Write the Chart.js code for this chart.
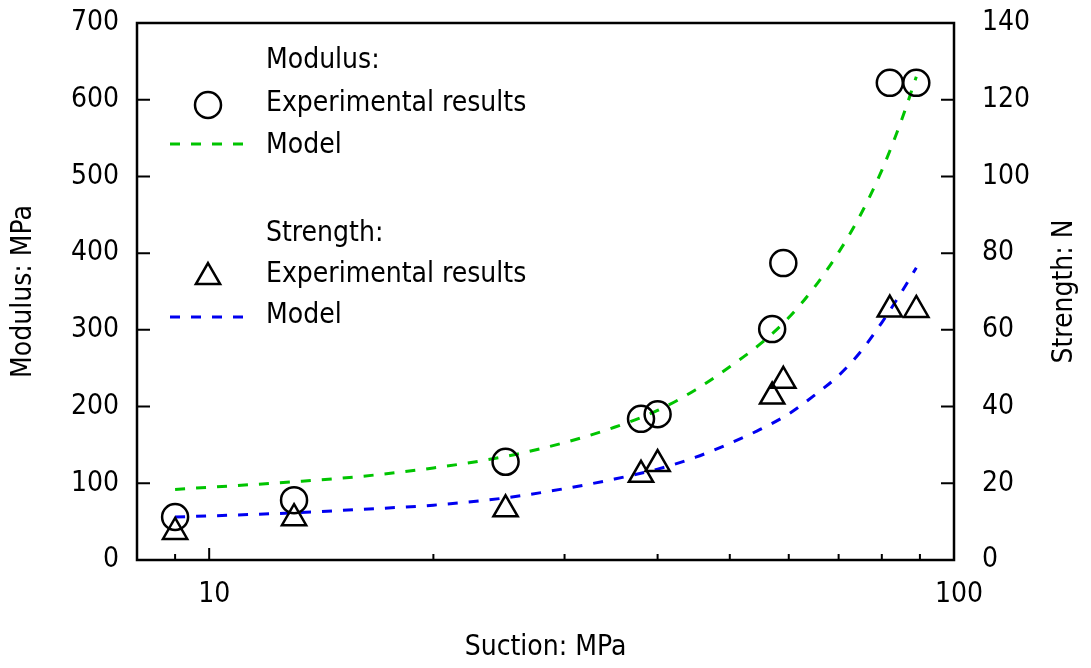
<!DOCTYPE html>
<html>
<head>
<meta charset="utf-8">
<title>Modulus and strength vs suction</title>
<script src="https://cdn.jsdelivr.net/npm/chart.js@4.4.1/dist/chart.umd.min.js"></script>
<style>
  html, body { margin: 0; padding: 0; background: #fff; }
  #wrap { width: 1091px; height: 668px; position: relative; }
</style>
</head>
<body>
<div id="wrap"><canvas id="suctionChart"></canvas></div>
<script>
// experimental points (suction in MPa)
const suction = [9, 13, 25, 38, 40, 57, 59, 82, 89];
const modulusExp = [56, 78, 128, 184, 190, 301, 387, 622, 622];
const strengthExp = [7.3, 10.9, 13.2, 22.2, 25.0, 42.6, 46.7, 65.3, 65.2];

// model curves
const modelSuction = [9, 13, 16, 20, 25, 30, 35, 40, 45, 50, 55, 60, 65, 70, 75, 80, 85, 89];
const modulusModel = [92, 102, 109, 120, 135, 153, 173, 195, 222, 252, 282, 316, 356, 401, 451, 508, 573, 630];
const strengthModel = [11.2, 12.3, 13.2, 14.3, 16.2, 18.6, 21.1, 23.7, 26.8, 30.4, 34.1, 38.1, 43.0, 48.1, 54.4, 61.9, 69.8, 76.2];

// axis ticks
const xTicks = [9, 10, 20, 30, 40, 50, 60, 70, 80, 90, 100];
const xLabels = [10, 100];
const modulusTicks = [0, 100, 200, 300, 400, 500, 600, 700];
const strengthTicks = [0, 20, 40, 60, 80, 100, 120, 140];

const GREEN = '#00c400';
const BLUE = '#0000f0';
const FONT = '"DejaVu Sans Condensed", "Liberation Sans", sans-serif';

Chart.defaults.font.family = FONT;
Chart.defaults.font.size = 28;
Chart.defaults.color = '#000';

function pts(xs, ys) {
    return xs.map((x, i) => ({ x: x, y: ys[i] }));
}

// fixed box sizes so the plot area lands where the original one is
function fixSize(w, h) {
    return s => {
        if (w) s.width = w;
        if (h) s.height = h;
        s.paddingTop = 0;
        s.paddingBottom = 0;
        s.paddingLeft = 0;
        s.paddingRight = 0;
    };
}

// frame + inward ticks like the original plot
const frameTicks = {
    id: 'frameTicks',
    afterDraw(chart) {
        const { ctx, chartArea: a, scales } = chart;
        ctx.save();
        ctx.strokeStyle = '#000';
        ctx.lineWidth = 2;
        ctx.beginPath();
        scales.x.ticks.forEach(t => {
            const px = scales.x.getPixelForValue(t.value);
            const len = xLabels.includes(t.value) ? 12 : 6;
            ctx.moveTo(px, a.bottom);
            ctx.lineTo(px, a.bottom - len);
        });
        scales.y.ticks.forEach(t => {
            const py = scales.y.getPixelForValue(t.value);
            ctx.moveTo(a.left, py);
            ctx.lineTo(a.left + 13, py);
        });
        scales.y2.ticks.forEach(t => {
            const py = scales.y2.getPixelForValue(t.value);
            ctx.moveTo(a.right, py);
            ctx.lineTo(a.right - 13, py);
        });
        ctx.stroke();
        ctx.lineWidth = 2.5;
        ctx.strokeRect(a.left, a.top, a.right - a.left, a.bottom - a.top);

        // right axis title reads bottom to top
        ctx.fillStyle = '#000';
        ctx.font = '28px ' + FONT;
        ctx.textAlign = 'center';
        ctx.textBaseline = 'middle';
        ctx.translate(1065, (a.top + a.bottom) / 2);
        ctx.rotate(-Math.PI / 2);
        ctx.fillText('Strength: N', 0, 0);
        ctx.restore();
    }
};

// two-group legend: header, marker row, model row
const groupLegend = {
    id: 'groupLegend',
    afterDraw(chart) {
        const ctx = chart.ctx;
        const ds = chart.data.datasets;
        const rows = [
            { text: 'Modulus:', y: 68 },
            { text: ds[0].label, y: 111, point: ds[0], py: 105 },
            { text: ds[1].label, y: 153, line: ds[1], ly: 144 },
            { text: 'Strength:', y: 241 },
            { text: ds[2].label, y: 282, point: ds[2], py: 277 },
            { text: ds[3].label, y: 323, line: ds[3], ly: 317 }
        ];
        ctx.save();
        ctx.font = '28px ' + FONT;
        ctx.fillStyle = '#000';
        ctx.textAlign = 'left';
        ctx.textBaseline = 'alphabetic';
        rows.forEach(r => {
            ctx.fillText(r.text, 266, r.y);
            if (r.point) {
                const p = r.point;
                const rad = p.pointRadius;
                ctx.strokeStyle = p.borderColor;
                ctx.lineWidth = p.borderWidth;
                ctx.beginPath();
                if (p.pointStyle === 'circle') {
                    ctx.arc(208, r.py, rad, 0, Math.PI * 2);
                } else {
                    let ang = 0;
                    ctx.moveTo(208 + Math.sin(ang) * rad, r.py - Math.cos(ang) * rad);
                    ang += 2 * Math.PI / 3;
                    ctx.lineTo(208 + Math.sin(ang) * rad, r.py - Math.cos(ang) * rad);
                    ang += 2 * Math.PI / 3;
                    ctx.lineTo(208 + Math.sin(ang) * rad, r.py - Math.cos(ang) * rad);
                    ctx.closePath();
                }
                ctx.stroke();
            }
            if (r.line) {
                ctx.strokeStyle = r.line.borderColor;
                ctx.lineWidth = r.line.borderWidth;
                ctx.setLineDash(r.line.borderDash);
                ctx.beginPath();
                ctx.moveTo(170, r.ly);
                ctx.lineTo(250, r.ly);
                ctx.stroke();
                ctx.setLineDash([]);
            }
        });
        ctx.restore();
    }
};

const ctx = document.getElementById('suctionChart');

new Chart(ctx, {
    type: 'scatter',
    data: {
        datasets: [
            {
                label: 'Experimental results',
                data: pts(suction, modulusExp),
                yAxisID: 'y',
                pointStyle: 'circle',
                pointRadius: 13,
                borderColor: '#000',
                borderWidth: 2.5,
                backgroundColor: 'rgba(0,0,0,0)',
                order: 0
            },
            {
                label: 'Model',
                data: pts(modelSuction, modulusModel),
                yAxisID: 'y',
                showLine: true,
                borderColor: GREEN,
                borderWidth: 3,
                borderDash: [10, 11],
                pointRadius: 0,
                cubicInterpolationMode: 'monotone',
                order: 1
            },
            {
                label: 'Experimental results',
                data: pts(suction, strengthExp),
                yAxisID: 'y2',
                pointStyle: 'triangle',
                pointRadius: 14,
                borderColor: '#000',
                borderWidth: 2.5,
                backgroundColor: 'rgba(0,0,0,0)',
                order: 0
            },
            {
                label: 'Model',
                data: pts(modelSuction, strengthModel),
                yAxisID: 'y2',
                showLine: true,
                borderColor: BLUE,
                borderWidth: 3,
                borderDash: [10, 11],
                pointRadius: 0,
                cubicInterpolationMode: 'monotone',
                order: 1
            }
        ]
    },
    options: {
        responsive: true,
        maintainAspectRatio: false,
        animation: false,
        layout: { padding: { top: 23, left: 0, right: 0, bottom: 0 } },
        plugins: {
            legend: { display: false },
            tooltip: { enabled: false }
        },
        scales: {
            x: {
                type: 'logarithmic',
                position: 'bottom',
                min: 8,
                max: 100,
                afterBuildTicks: s => { s.ticks = xTicks.map(v => ({ value: v })); },
                afterFit: fixSize(0, 108),
                ticks: {
                    autoSkip: false,
                    maxRotation: 0,
                    padding: 18,
                    labelOffset: 5,
                    callback: v => xLabels.includes(v) ? String(v) : ''
                },
                grid: { display: false, drawTicks: false },
                border: { display: false },
                title: { display: true, text: 'Suction: MPa', padding: { top: 0, bottom: 3 } }
            },
            y: {
                position: 'left',
                min: 0,
                max: 700,
                afterBuildTicks: s => { s.ticks = modulusTicks.map(v => ({ value: v })); },
                afterFit: fixSize(137, 0),
                ticks: { padding: 18, callback: v => String(v) },
                grid: { display: false, drawTicks: false },
                border: { display: false },
                title: { display: true, text: 'Modulus: MPa', padding: { top: 7, bottom: 0 } }
            },
            y2: {
                position: 'right',
                min: 0,
                max: 140,
                afterBuildTicks: s => { s.ticks = strengthTicks.map(v => ({ value: v })); },
                afterFit: fixSize(137, 0),
                ticks: { padding: 28, callback: v => String(v) },
                grid: { display: false, drawTicks: false },
                border: { display: false },
                title: { display: false }
            }
        }
    },
    plugins: [frameTicks, groupLegend]
});
</script>
</body>
</html>
